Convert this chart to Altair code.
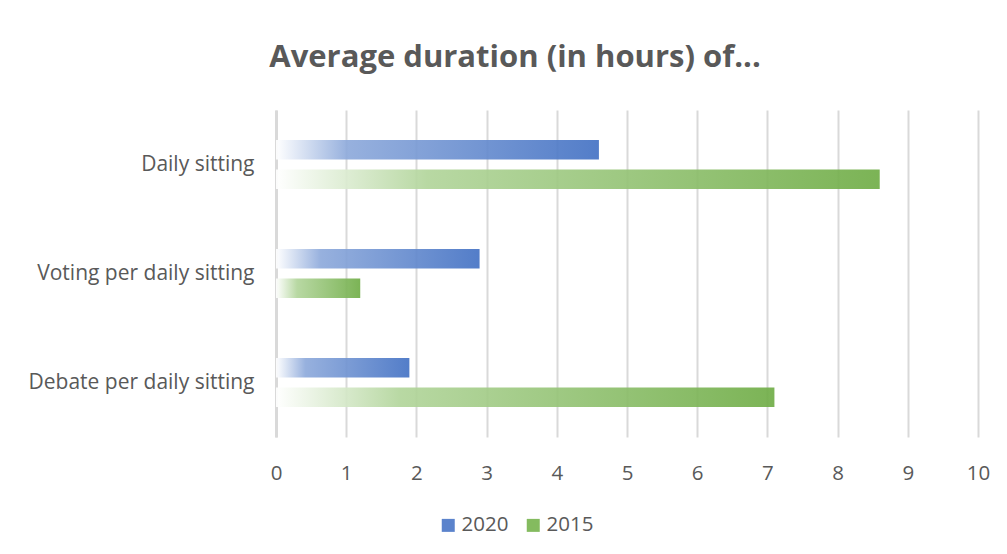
import altair as alt
import pandas as pd

categories = ["Daily sitting", "Voting per daily sitting", "Debate per daily sitting"]
series = ["2020", "2015"]
values_2020 = [4.6, 2.9, 1.9]
values_2015 = [8.6, 1.2, 7.1]
x_ticks = list(range(0, 11))

rows = []
for c, v20, v15 in zip(categories, values_2020, values_2015):
    rows.append({"category": c, "series": "2020", "value": v20})
    rows.append({"category": c, "series": "2015", "value": v15})
df = pd.DataFrame(rows)

TEXT = "#595959"
FONT = "Open Sans"

grad_blue = alt.LinearGradient(
    gradient="linear", x1=0, x2=1, y1=0, y2=0,
    stops=[alt.GradientStop(offset=0, color="#ffffff"),
           alt.GradientStop(offset=0.22, color="#8eaadb"),
           alt.GradientStop(offset=1, color="#4472c4")])
grad_green = alt.LinearGradient(
    gradient="linear", x1=0, x2=1, y1=0, y2=0,
    stops=[alt.GradientStop(offset=0, color="#ffffff"),
           alt.GradientStop(offset=0.25, color="#b2d59b"),
           alt.GradientStop(offset=1, color="#70ad47")])

x_enc = alt.X("value:Q",
              scale=alt.Scale(domain=[0, 10], nice=False),
              axis=alt.Axis(title=None, values=x_ticks, format="d", grid=True,
                            gridColor="#d9d9d9", gridWidth=2, domain=False, ticks=False,
                            labelFlush=False,
                            labelFontSize=20.5, labelColor=TEXT, labelFont=FONT,
                            labelPadding=26))
y_enc = alt.Y("category:N", sort=categories,
              scale=alt.Scale(paddingInner=0.46, paddingOuter=0.23),
              axis=alt.Axis(title=None, ticks=False, domain=True, domainColor="#d9d9d9",
                            domainWidth=3, labelFontSize=21, labelColor=TEXT,
                            labelFont=FONT, labelPadding=22, labelLimit=400))
yoff = alt.YOffset("series:N", sort=series,
                   scale=alt.Scale(domain=series, paddingInner=0.34, paddingOuter=0.17))

base = alt.Chart(df)

bars20 = base.transform_filter("datum.series == '2020'").mark_bar(
    color=grad_blue, opacity=0.92).encode(x=x_enc, y=y_enc, yOffset=yoff)
bars15 = base.transform_filter("datum.series == '2015'").mark_bar(
    color=grad_green, opacity=0.92).encode(x=x_enc, y=y_enc, yOffset=yoff)

legend_layer = base.mark_square(opacity=0).encode(
    x=alt.X("value:Q"),
    y=alt.Y("category:N", sort=categories),
    color=alt.Color("series:N",
                    scale=alt.Scale(domain=series, range=["#5b83cc", "#84bb5f"]),
                    legend=alt.Legend(orient="none", legendX=162, legendY=405,
                                      direction="horizontal", title=None,
                                      symbolType="square", symbolOpacity=1,
                                      symbolSize=169, symbolStrokeWidth=0,
                                      labelFontSize=20.5, labelColor=TEXT,
                                      labelFont=FONT, labelOffset=3,
                                      columnPadding=14)),
)

chart = alt.layer(bars20, bars15, legend_layer).properties(
    width=702, height=327,
    title=alt.TitleParams("Average duration (in hours) of...", fontSize=31,
                          font=FONT, fontWeight="bold", color=TEXT,
                          anchor="middle", dx=-112, offset=36),
    padding={"left": 268, "top": 102, "right": 21, "bottom": 109},
    autosize=alt.AutoSizeParams(type="none"),
    background="white",
).configure_view(stroke=None)

chart.save("out.html", embed_options={"renderer": "svg", "actions": False})
